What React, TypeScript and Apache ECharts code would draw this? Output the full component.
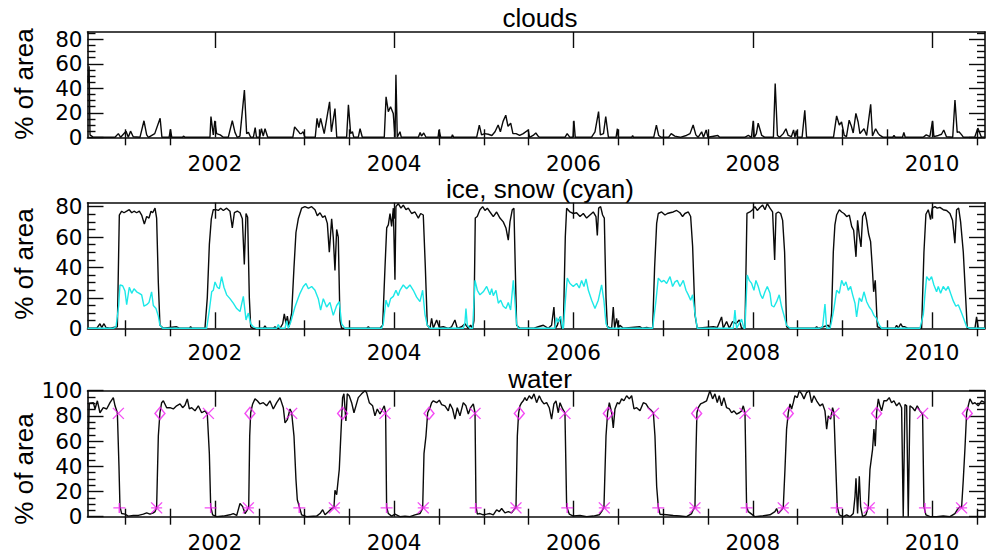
import React, { useEffect, useRef } from "react";
import * as echarts from "echarts";

// ---------- axis extents & ticks ----------
const X_MIN = 2000.58;
const X_MAX = 2010.59;
const majorYears = [2002, 2004, 2006, 2008, 2010];
const minorYears = [2001, 2001.5, 2002.5, 2003, 2003.5, 2004.5, 2005, 2005.5, 2006.5, 2007, 2007.5, 2008.5, 2009, 2009.5, 2010.5];

const panelTitles = ["clouds", "ice, snow (cyan)", "water"];
const yAxisName = "% of area";
const panelYMax = [86, 82.6, 100];
const yMajorTicks = [
  [0, 20, 40, 60, 80],
  [0, 20, 40, 60, 80],
  [0, 20, 40, 60, 80, 100],
];
const yMinorTicks = [
  [5, 10, 15, 25, 30, 35, 45, 50, 55, 65, 70, 75, 85],
  [5, 10, 15, 25, 30, 35, 45, 50, 55, 65, 70, 75],
  [5, 10, 15, 25, 30, 35, 45, 50, 55, 65, 70, 75, 85, 90, 95],
];

// ---------- data: [decimal year, % of area] ----------
const clouds = [
  [2000.585, 45], [2000.598, 58], [2000.608, 2], [2000.645, 0], [2000.887, 0], [2000.924, 3], [2000.95, 0], [2001.01, 5], [2001.035, 0],
  [2001.06, 5], [2001.09, 0.5], [2001.165, 0], [2001.21, 13.5], [2001.24, 2], [2001.26, 0], [2001.33, 3], [2001.39, 15.5],
  [2001.41, 0], [2001.49, 0], [2001.505, 6.5], [2001.52, 0], [2001.64, 0], [2001.65, 1], [2001.67, 0], [2001.946, 0],
  [2001.957, 17], [2001.983, 2], [2002.0, 13.5], [2002.02, 3], [2002.06, 2], [2002.095, 0], [2002.15, 0], [2002.195, 13.5],
  [2002.225, 4], [2002.25, 0], [2002.28, 1], [2002.33, 38.5], [2002.355, 3], [2002.375, 4], [2002.4, 0], [2002.43, 0],
  [2002.45, 8], [2002.465, 0], [2002.5, 0], [2002.52, 7], [2002.54, 1], [2002.56, 7], [2002.59, 0], [2002.87, 0],
  [2002.89, 8.5], [2002.93, 5], [2002.95, 3], [2002.965, 3], [2002.985, 4.5], [2003.005, 0], [2003.12, 0], [2003.14, 15.5],
  [2003.16, 8], [2003.18, 15.5], [2003.22, 3], [2003.28, 29], [2003.3, 4.5], [2003.34, 23.5], [2003.36, 0], [2003.47, 0],
  [2003.49, 26.5], [2003.515, 3], [2003.535, 4.5], [2003.55, 0], [2003.6, 0], [2003.62, 7], [2003.645, 0], [2003.89, 0],
  [2003.91, 33], [2003.935, 21], [2003.96, 25], [2003.99, 19.5], [2004.01, 0], [2004.02, 51], [2004.035, 0], [2004.065, 4.5],
  [2004.08, 0], [2004.27, 0], [2004.29, 4], [2004.305, 1], [2004.33, 3.5], [2004.355, 0], [2004.49, 0], [2004.5, 6],
  [2004.52, 0], [2004.64, 0], [2004.65, 2], [2004.665, 0], [2004.92, 0], [2004.95, 10], [2004.975, 2], [2005.01, 3],
  [2005.05, 2.5], [2005.09, 1.5], [2005.125, 4.5], [2005.16, 10], [2005.185, 4.5], [2005.215, 13], [2005.245, 18], [2005.27, 9],
  [2005.3, 11.5], [2005.325, 3], [2005.36, 3], [2005.4, 1.5], [2005.44, 3], [2005.495, 6], [2005.51, 0], [2005.55, 1.5],
  [2005.58, 3.5], [2005.61, 0.5], [2005.625, 0], [2005.905, 0], [2005.93, 3], [2005.96, 0], [2005.995, 0], [2006.005, 13.5],
  [2006.02, 0], [2006.2, 0], [2006.24, 4.5], [2006.28, 21], [2006.3, 2], [2006.335, 3], [2006.36, 17], [2006.39, 0],
  [2006.475, 0], [2006.49, 7], [2006.5, 0], [2006.65, 0], [2006.66, 1.5], [2006.67, 0], [2006.895, 0], [2006.925, 10],
  [2006.95, 1.5], [2006.98, 0], [2007.06, 0], [2007.09, 3], [2007.13, 1], [2007.19, 0], [2007.26, 1.5], [2007.3, 3],
  [2007.335, 10], [2007.365, 2], [2007.39, 0], [2007.43, 4.5], [2007.45, 0], [2007.48, 6], [2007.5, 0], [2007.61, 1.5],
  [2007.63, 0], [2007.91, 0], [2007.95, 1.5], [2007.985, 0], [2008.005, 13.5], [2008.017, 0], [2008.04, 3], [2008.06, 11.5],
  [2008.1, 1.5], [2008.135, 0], [2008.23, 0], [2008.25, 44], [2008.275, 1.5], [2008.3, 0], [2008.34, 3], [2008.37, 7],
  [2008.395, 1.5], [2008.43, 0.5], [2008.455, 6], [2008.47, 0], [2008.485, 5.5], [2008.5, 0], [2008.55, 0], [2008.58, 22],
  [2008.6, 0], [2008.9, 0], [2008.935, 17.5], [2008.965, 10], [2008.99, 12.5], [2009.02, 1.5], [2009.045, 0.5], [2009.075, 14],
  [2009.1, 9], [2009.12, 3.5], [2009.15, 19.5], [2009.175, 12.5], [2009.195, 3], [2009.24, 7], [2009.27, 1.5], [2009.315, 27],
  [2009.335, 1], [2009.37, 7], [2009.4, 3], [2009.42, 1.5], [2009.455, 0], [2009.56, 0], [2009.575, 1.5], [2009.59, 0],
  [2009.67, 0], [2009.685, 4], [2009.7, 0], [2009.9, 0], [2009.935, 2], [2009.975, 0.5], [2010.005, 13.5], [2010.02, 0.5],
  [2010.07, 1.5], [2010.105, 2.5], [2010.13, 6], [2010.16, 0.5], [2010.23, 0], [2010.255, 30.5], [2010.28, 4], [2010.3, 4.5],
  [2010.33, 2], [2010.35, 0], [2010.475, 0], [2010.51, 7.5], [2010.55, 0], [2010.59, 0],
];

const iceSnow = [
  [2000.58, 0], [2000.682, 0], [2000.719, 3], [2000.738, 0.5], [2000.764, 3], [2000.786, 0.5], [2000.831, 0], [2000.913, 1],
  [2000.935, 74.5], [2000.961, 77], [2000.987, 76], [2001.017, 77], [2001.046, 78], [2001.073, 76], [2001.099, 77], [2001.128, 76],
  [2001.158, 77], [2001.184, 74.5], [2001.214, 68.5], [2001.24, 73.5], [2001.266, 72.5], [2001.288, 77], [2001.307, 76], [2001.333, 79],
  [2001.351, 72.5], [2001.37, 30], [2001.388, 2], [2001.426, 0], [2001.574, 1], [2001.612, 0], [2001.716, 0], [2001.73, 1], [2001.745, 0],
  [2001.89, 0], [2001.916, 20], [2001.939, 55], [2001.961, 72], [2001.983, 78], [2002.013, 78], [2002.039, 77.5], [2002.065, 79],
  [2002.095, 77.5], [2002.132, 79], [2002.169, 77], [2002.195, 66], [2002.218, 76], [2002.251, 77], [2002.281, 76], [2002.307, 72],
  [2002.329, 42], [2002.348, 75.5], [2002.366, 73], [2002.385, 20], [2002.4, 1], [2002.429, 0], [2002.541, 0], [2002.559, 1.5],
  [2002.578, 0], [2002.652, 0], [2002.671, 1], [2002.69, 0],
  [2002.727, 0], [2002.757, 3], [2002.775, 9.5], [2002.794, 3], [2002.809, 8], [2002.827, 1], [2002.857, 10], [2002.883, 40],
  [2002.905, 63], [2002.931, 72], [2002.968, 79], [2003.005, 80], [2003.043, 79], [2003.08, 80], [2003.117, 78], [2003.143, 74],
  [2003.173, 76], [2003.203, 73], [2003.229, 74], [2003.255, 69], [2003.277, 50], [2003.303, 72], [2003.321, 60], [2003.34, 38],
  [2003.359, 65], [2003.377, 60], [2003.396, 5], [2003.414, 0], [2003.693, 0], [2003.712, 1], [2003.73, 0],
  [2003.842, 0], [2003.872, 2], [2003.898, 40], [2003.917, 66], [2003.935, 68], [2003.954, 75.5], [2003.972, 67], [2003.991, 79],
  [2004.009, 32], [2004.02, 80], [2004.046, 82], [2004.076, 79], [2004.102, 81], [2004.132, 78], [2004.158, 79], [2004.195, 75.5],
  [2004.232, 76.5], [2004.27, 72.5], [2004.296, 75.5], [2004.325, 74.5], [2004.348, 40], [2004.37, 2], [2004.4, 0], [2004.418, 6.5],
  [2004.437, 0], [2004.474, 5.5], [2004.504, 0.5], [2004.548, 1], [2004.604, 0], [2004.641, 1], [2004.678, 5.5], [2004.704, 0],
  [2004.752, 1], [2004.79, 3], [2004.827, 0], [2004.853, 2], [2004.876, 0],
  [2004.89, 5], [2004.905, 72.5], [2004.927, 73.5], [2004.957, 78], [2004.987, 80], [2005.013, 77.5], [2005.039, 79], [2005.069, 76.5],
  [2005.106, 73.5], [2005.143, 76.5], [2005.18, 72.5], [2005.217, 70], [2005.247, 66], [2005.273, 58], [2005.292, 70], [2005.318, 78],
  [2005.336, 79], [2005.351, 40], [2005.366, 2], [2005.403, 0], [2005.552, 0], [2005.608, 1], [2005.664, 2], [2005.719, 0],
  [2005.756, 2], [2005.782, 14], [2005.797, 0], [2005.82, 2], [2005.85, 7.5], [2005.868, 0],
  [2005.887, 0], [2005.909, 60], [2005.924, 79], [2005.961, 76.5], [2005.998, 75.5], [2006.035, 76], [2006.073, 73.5], [2006.11, 75.5],
  [2006.147, 72.5], [2006.184, 74.5], [2006.221, 76.5], [2006.251, 73.5], [2006.266, 61], [2006.281, 79], [2006.303, 80], [2006.325, 74.5],
  [2006.344, 72.5], [2006.363, 20], [2006.378, 1], [2006.426, 0], [2006.444, 14], [2006.459, 0], [2006.481, 6.5], [2006.5, 0],
  [2006.518, 2], [2006.556, 0], [2006.742, 1], [2006.771, 0], [2006.816, 0.5], [2006.853, 0],
  [2006.883, 0], [2006.905, 40], [2006.928, 69], [2006.946, 75.5], [2006.983, 76.5], [2007.021, 74.5], [2007.047, 75.5], [2007.077, 76],
  [2007.113, 76.5], [2007.151, 77.5], [2007.188, 76], [2007.217, 73.5], [2007.243, 75.5], [2007.281, 76.5], [2007.307, 73.5], [2007.329, 54],
  [2007.355, 9], [2007.381, 0], [2007.56, 1], [2007.604, 0.5], [2007.652, 7.5], [2007.671, 0], [2007.708, 4.5], [2007.738, 0],
  [2007.775, 4.5], [2007.812, 3], [2007.849, 5.5], [2007.875, 0],
  [2007.913, 0], [2007.935, 75.5], [2007.968, 76.5], [2007.998, 78], [2008.024, 80], [2008.05, 77.5], [2008.08, 79.5], [2008.11, 81],
  [2008.136, 78], [2008.162, 82], [2008.192, 79], [2008.221, 76.5], [2008.244, 45], [2008.259, 75.5], [2008.285, 76.5], [2008.311, 75.5],
  [2008.333, 71], [2008.355, 50], [2008.377, 1], [2008.415, 0], [2008.693, 0], [2008.712, 1], [2008.73, 0], [2008.842, 2], [2008.861, 0],
  [2008.879, 10], [2008.898, 50], [2008.916, 68], [2008.935, 74.5], [2008.965, 78], [2008.991, 76.5], [2009.017, 75.5], [2009.047, 73.5],
  [2009.077, 74.5], [2009.103, 67], [2009.125, 64.5], [2009.151, 47], [2009.169, 71], [2009.188, 61], [2009.207, 53.5], [2009.225, 73.5],
  [2009.251, 76.5], [2009.27, 71], [2009.292, 62], [2009.314, 57], [2009.333, 40], [2009.348, 24], [2009.366, 31.5], [2009.389, 1],
  [2009.437, 0], [2009.586, 0], [2009.604, 2], [2009.623, 0], [2009.649, 3], [2009.671, 1], [2009.697, 1], [2009.734, 0],
  [2009.883, 0], [2009.909, 50], [2009.931, 75], [2009.957, 78], [2009.983, 71.5], [2010.002, 79], [2010.031, 80], [2010.057, 79],
  [2010.087, 79.5], [2010.124, 78], [2010.162, 77.5], [2010.199, 75.5], [2010.228, 71], [2010.254, 56], [2010.273, 78], [2010.296, 79],
  [2010.318, 70], [2010.348, 50], [2010.37, 25], [2010.392, 0], [2010.478, 0], [2010.496, 7.5], [2010.515, 0], [2010.59, 0],
];

const snowOnly = [
  [2000.58, 0], [2000.868, 0], [2000.898, 1], [2000.928, 15], [2000.942, 28.5], [2000.972, 28], [2000.998, 24.5], [2001.017, 15.5],
  [2001.046, 27], [2001.073, 23], [2001.099, 26], [2001.128, 24], [2001.158, 23], [2001.184, 22], [2001.21, 14.5], [2001.24, 15.5],
  [2001.266, 17], [2001.295, 24], [2001.314, 15], [2001.344, 13], [2001.37, 8], [2001.388, 2], [2001.418, 0],
  [2001.909, 0], [2001.939, 12], [2001.965, 24], [2001.983, 25], [2002.002, 30.5], [2002.028, 27], [2002.05, 26], [2002.076, 34],
  [2002.102, 27], [2002.132, 22], [2002.169, 19.5], [2002.206, 16.5], [2002.244, 13], [2002.281, 11], [2002.318, 21], [2002.348, 5.5],
  [2002.374, 10], [2002.4, 3], [2002.429, 1], [2002.467, 0], [2002.69, 0], [2002.708, 2.5], [2002.727, 0],
  [2002.783, 0], [2002.801, 5], [2002.82, 0], [2002.846, 4], [2002.894, 14], [2002.924, 19], [2002.95, 23], [2002.987, 27.5],
  [2003.017, 29.5], [2003.043, 26], [2003.08, 27.5], [2003.117, 25], [2003.154, 19.5], [2003.18, 12], [2003.21, 19.5], [2003.247, 14],
  [2003.284, 17], [2003.321, 8.5], [2003.359, 15], [2003.388, 17.5], [2003.414, 3], [2003.452, 0],
  [2003.861, 0], [2003.879, 3], [2003.909, 18.5], [2003.935, 14], [2003.961, 19.5], [2003.991, 21], [2004.02, 25], [2004.046, 21.5],
  [2004.065, 25], [2004.102, 28.5], [2004.139, 26], [2004.176, 28.5], [2004.214, 25], [2004.251, 20.5], [2004.288, 17.5], [2004.318, 25],
  [2004.344, 9], [2004.37, 2], [2004.4, 0], [2004.772, 0], [2004.79, 4], [2004.801, 13], [2004.816, 2], [2004.846, 0],
  [2004.876, 0], [2004.902, 31.5], [2004.928, 25], [2004.957, 22], [2004.994, 24], [2005.032, 27.5], [2005.069, 22], [2005.088, 26],
  [2005.106, 21.5], [2005.136, 25], [2005.162, 16.5], [2005.188, 18.5], [2005.217, 14.5], [2005.247, 13], [2005.273, 17], [2005.299, 12],
  [2005.329, 31.5], [2005.347, 18], [2005.366, 3], [2005.385, 0], [2005.793, 0], [2005.812, 7], [2005.831, 4], [2005.857, 8], [2005.879, 0],
  [2005.887, 0], [2005.916, 23], [2005.931, 33], [2005.961, 29.5], [2005.998, 27.5], [2006.035, 29.5], [2006.065, 26.5], [2006.091, 31.5],
  [2006.117, 27.5], [2006.14, 32.5], [2006.166, 25], [2006.203, 18.5], [2006.24, 13], [2006.277, 18.5], [2006.314, 28.5], [2006.34, 18],
  [2006.363, 3], [2006.388, 0],
  [2006.883, 0], [2006.92, 18], [2006.946, 33], [2006.983, 30.5], [2007.009, 31.5], [2007.039, 29.5], [2007.077, 34], [2007.106, 27.5],
  [2007.132, 30.5], [2007.158, 31.5], [2007.188, 27.5], [2007.225, 31.5], [2007.255, 25], [2007.281, 22], [2007.307, 18.5], [2007.329, 22],
  [2007.355, 10], [2007.381, 0], [2007.782, 0], [2007.801, 12], [2007.819, 0], [2007.875, 6], [2007.901, 0],
  [2007.913, 0], [2007.938, 35], [2007.961, 31.5], [2007.987, 29.5], [2008.013, 25], [2008.035, 31.5], [2008.061, 27.5], [2008.087, 22],
  [2008.11, 19.5], [2008.136, 24], [2008.162, 27.5], [2008.192, 23], [2008.21, 15], [2008.236, 14], [2008.266, 17.5], [2008.295, 22],
  [2008.322, 14], [2008.348, 8.5], [2008.377, 2], [2008.415, 0], [2008.742, 0], [2008.779, 1], [2008.805, 16], [2008.824, 0],
  [2008.861, 0], [2008.879, 4.5], [2008.905, 13], [2008.935, 25], [2008.965, 23], [2008.991, 31.5], [2009.017, 28], [2009.039, 30.5],
  [2009.065, 25], [2009.091, 27.5], [2009.114, 22], [2009.14, 16.5], [2009.158, 7.5], [2009.188, 20], [2009.214, 17.5], [2009.24, 24],
  [2009.27, 17.5], [2009.299, 14], [2009.325, 12], [2009.351, 8.5], [2009.381, 6.5], [2009.411, 2], [2009.437, 0],
  [2009.864, 0], [2009.902, 9], [2009.92, 22], [2009.939, 34], [2009.968, 31.5], [2009.994, 34], [2010.02, 28.5], [2010.05, 24],
  [2010.069, 27.5], [2010.095, 23], [2010.124, 27.5], [2010.154, 25], [2010.18, 27.5], [2010.206, 23], [2010.236, 18], [2010.265, 14.5],
  [2010.292, 15.5], [2010.329, 10], [2010.355, 6], [2010.385, 1], [2010.422, 0], [2010.59, 0],
];

const water = [
  [2000.582, 40], [2000.6, 90], [2000.645, 90.5], [2000.664, 85.5], [2000.69, 92], [2000.719, 82.5], [2000.756, 86.5], [2000.794, 85.5],
  [2000.831, 90.5], [2000.868, 94.5], [2000.887, 88], [2000.913, 82.5], [2000.931, 40], [2000.942, 8], [2000.961, 2.5], [2000.998, 2],
  [2001.035, 0.5], [2001.091, 1], [2001.147, 1], [2001.203, 2], [2001.24, 3], [2001.277, 2], [2001.314, 3], [2001.333, 4],
  [2001.351, 7.5], [2001.37, 64], [2001.388, 82.5], [2001.407, 90.5], [2001.426, 92], [2001.463, 86.5], [2001.5, 86.5], [2001.537, 85.5],
  [2001.574, 88], [2001.612, 89.5], [2001.641, 86.5], [2001.667, 88.5], [2001.693, 93.5], [2001.716, 85.5], [2001.742, 86.5], [2001.779, 84],
  [2001.816, 88], [2001.853, 82.5], [2001.89, 84], [2001.916, 81.5], [2001.939, 50], [2001.954, 8], [2001.976, 1.5], [2002.02, 0],
  [2002.095, 0.5], [2002.169, 1.5], [2002.206, 2.5], [2002.244, 1], [2002.281, 10.5], [2002.311, 8], [2002.337, 2.5], [2002.363, 5.5],
  [2002.378, 7.5], [2002.389, 64], [2002.4, 82.5], [2002.422, 89.5], [2002.448, 93.5], [2002.474, 92], [2002.504, 89.5], [2002.541, 90.5],
  [2002.578, 88], [2002.615, 92], [2002.652, 85.5], [2002.69, 90.5], [2002.727, 94.5], [2002.764, 86.5], [2002.783, 74.5], [2002.809, 77],
  [2002.839, 85.5], [2002.857, 82.5], [2002.883, 64], [2002.905, 29.5], [2002.92, 13.5], [2002.942, 8], [2002.968, 1.5], [2003.024, 0],
  [2003.136, 0.5], [2003.173, 2.5], [2003.203, 5.5], [2003.229, 1.5], [2003.266, 4], [2003.303, 6.5], [2003.329, 7.5], [2003.34, 21],
  [2003.359, 17.5], [2003.388, 37.5], [2003.414, 77.5], [2003.425, 94.5], [2003.44, 97.5], [2003.462, 76], [2003.477, 97.5], [2003.499, 96],
  [2003.526, 90.5], [2003.552, 82.5], [2003.574, 88], [2003.6, 94.5], [2003.637, 97.5], [2003.675, 100], [2003.693, 98.5], [2003.723, 90.5],
  [2003.76, 88], [2003.786, 80], [2003.812, 85.5], [2003.842, 81.5], [2003.872, 85.5], [2003.89, 88], [2003.905, 82.5], [2003.916, 8],
  [2003.935, 2.5], [2003.972, 0.5], [2004.009, 2], [2004.065, 0], [2004.121, 0.5], [2004.177, 0], [2004.232, 1.5], [2004.288, 2.5],
  [2004.318, 6.5], [2004.333, 50], [2004.355, 64], [2004.374, 82.5], [2004.4, 86.5], [2004.418, 90.5], [2004.437, 92], [2004.474, 90.5],
  [2004.504, 92.5], [2004.53, 89], [2004.567, 88], [2004.604, 84], [2004.623, 89.5], [2004.652, 85.5], [2004.678, 77.5], [2004.704, 86.5],
  [2004.734, 80], [2004.771, 90.5], [2004.801, 88], [2004.827, 81.5], [2004.853, 86.5], [2004.883, 89.5], [2004.902, 82.5], [2004.913, 8],
  [2004.928, 2], [2004.957, 2.5], [2004.994, 1.5], [2005.032, 2], [2005.069, 2.5], [2005.106, 1.5], [2005.143, 5.5], [2005.173, 4],
  [2005.199, 6.5], [2005.236, 3], [2005.273, 4], [2005.31, 3], [2005.347, 6.5], [2005.359, 7.5], [2005.374, 64], [2005.388, 82],
  [2005.403, 88], [2005.422, 90.5], [2005.441, 92], [2005.459, 94.5], [2005.478, 92], [2005.507, 96], [2005.533, 93.5], [2005.56, 97.5],
  [2005.589, 90.5], [2005.619, 96], [2005.645, 92], [2005.671, 89.5], [2005.701, 90.5], [2005.73, 86.5], [2005.756, 77.5], [2005.782, 89.5],
  [2005.805, 92], [2005.831, 82.5], [2005.85, 90.5], [2005.879, 85.5], [2005.905, 82.5], [2005.924, 8], [2005.954, 2], [2005.998, 0.5],
  [2006.073, 1], [2006.147, 0], [2006.221, 0.5], [2006.288, 1.5], [2006.314, 4], [2006.34, 7.5], [2006.363, 64], [2006.381, 82.5],
  [2006.4, 90.5], [2006.426, 82.5], [2006.444, 70.5], [2006.463, 85.5], [2006.489, 90.5], [2006.511, 89.5], [2006.537, 93.5], [2006.563, 92],
  [2006.593, 96], [2006.623, 93.5], [2006.649, 96], [2006.675, 85.5], [2006.705, 86.5], [2006.742, 84], [2006.779, 90.5], [2006.809, 89.5],
  [2006.835, 86.5], [2006.872, 84], [2006.891, 82.5], [2006.909, 64], [2006.928, 24], [2006.946, 8], [2006.965, 2], [2007.039, 1.5],
  [2007.113, 1], [2007.188, 0.5], [2007.262, 0], [2007.318, 2.5], [2007.336, 5.5], [2007.355, 7.5], [2007.366, 50], [2007.377, 82.5],
  [2007.392, 86.5], [2007.418, 89.5], [2007.448, 90.5], [2007.485, 92], [2007.522, 100], [2007.552, 93.5], [2007.578, 97.5], [2007.604, 90.5],
  [2007.626, 96], [2007.652, 88], [2007.678, 94.5], [2007.708, 86.5], [2007.738, 85.5], [2007.764, 82.5], [2007.79, 84], [2007.819, 81.5],
  [2007.849, 82.5], [2007.875, 84], [2007.894, 88], [2007.913, 82.5], [2007.931, 8], [2007.95, 4], [2007.987, 2], [2008.024, 0],
  [2008.099, 0.5], [2008.192, 1.5], [2008.247, 4], [2008.266, 6.5], [2008.285, 2.5], [2008.322, 5.5], [2008.34, 7.5], [2008.359, 37.5],
  [2008.377, 69.5], [2008.396, 82.5], [2008.415, 89.5], [2008.433, 85.5], [2008.452, 90.5], [2008.47, 96], [2008.496, 94.5], [2008.519, 100],
  [2008.545, 97.5], [2008.571, 93.5], [2008.6, 98.5], [2008.63, 100], [2008.656, 90.5], [2008.682, 96], [2008.712, 92], [2008.749, 88],
  [2008.779, 89.5], [2008.805, 84], [2008.824, 69.5], [2008.842, 80], [2008.868, 77.5], [2008.89, 86.5], [2008.905, 82.5], [2008.927, 37.5],
  [2008.942, 8], [2008.965, 1.5], [2009.01, 0], [2009.047, 1.5], [2009.084, 0], [2009.121, 2.5], [2009.14, 16], [2009.151, 30.5],
  [2009.169, 2.5], [2009.188, 32], [2009.203, 8], [2009.225, 0], [2009.262, 1.5], [2009.288, 7.5], [2009.307, 37.5], [2009.336, 53.5],
  [2009.351, 69.5], [2009.366, 56], [2009.381, 82.5], [2009.4, 93.5], [2009.418, 88], [2009.437, 84], [2009.463, 92], [2009.493, 92],
  [2009.522, 94.5], [2009.548, 90.5], [2009.574, 92], [2009.604, 88], [2009.634, 90.5], [2009.66, 86.5], [2009.678, 0], [2009.697, 89],
  [2009.716, 88], [2009.734, 0], [2009.753, 88], [2009.782, 86.5], [2009.808, 84], [2009.834, 88], [2009.864, 84], [2009.894, 81.5],
  [2009.909, 8], [2009.931, 1.5], [2009.976, 0], [2010.05, 0], [2010.124, 0.5], [2010.199, 0], [2010.254, 2.5], [2010.28, 5.5],
  [2010.31, 8], [2010.329, 7.5], [2010.348, 29.5], [2010.366, 53.5], [2010.385, 82.5], [2010.403, 88], [2010.422, 93.5], [2010.452, 89.5],
  [2010.478, 90.5], [2010.515, 88], [2010.552, 92], [2010.59, 90.5],
];

// freeze-up / break-up markers (water panel)
const freezeStart = [
  [2000.924, 82], [2001.928, 82], [2002.857, 82], [2003.898, 82], [2004.902, 82],
  [2005.905, 82], [2006.891, 82], [2007.913, 82], [2008.905, 82], [2009.894, 82],
];
const freezeEnd = [
  [2000.935, 7], [2001.954, 7], [2002.942, 7], [2003.916, 7], [2004.909, 7],
  [2005.931, 7], [2006.946, 7], [2007.931, 7], [2008.935, 7], [2009.92, 7],
];
const meltStart = [
  [2001.351, 7], [2002.374, 7], [2003.333, 7], [2004.325, 7], [2005.359, 7],
  [2006.344, 7], [2007.355, 7], [2008.34, 7], [2009.299, 7], [2010.329, 7],
];
const meltEnd = [
  [2001.388, 82], [2002.392, 82], [2003.425, 82], [2004.389, 82], [2005.396, 82],
  [2006.389, 82], [2007.374, 82], [2008.396, 82], [2009.381, 82], [2010.392, 82],
];

// ---------- styling ----------
const INK = "#0a0a0a";
const CYAN = "#1CE8E8";
const MAGENTA = "#F020F0";
const TICK_FONT = "DejaVu Sans";
const TEXT_FONT = "Liberation Sans";

const grids = [
  { left: 87.5, top: 32, width: 897.5, height: 105.3 },
  { left: 87.5, top: 202.7, width: 897.5, height: 125.6 },
  { left: 87.5, top: 390.7, width: 897.5, height: 126 },
];
const titleY = [17.8, 189.3, 378.5];
const nameY = [84, 264, 469];
const xLabelMargin = [18, 16, 18];

function buildXAxes(g: number) {
  const base = {
    gridIndex: g, type: "value", min: X_MIN, max: X_MAX,
    splitLine: { show: false }, axisPointer: { show: false },
  };
  const line = { show: true, onZero: false, lineStyle: { color: INK, width: 1.6 } };
  const tick = (vals: number[], len: number) => ({
    show: true, inside: true, length: len, customValues: vals, lineStyle: { color: INK, width: 1.4 },
  });
  return [
    {
      ...base, position: "bottom", axisLine: line, axisTick: tick(majorYears, 16),
      axisLabel: {
        show: true, customValues: majorYears, margin: xLabelMargin[g], fontSize: 21.5, lineHeight: 16,
        fontFamily: TICK_FONT, color: "#000",
        formatter: (v: number) => String(Math.round(v)),
      },
    },
    { ...base, position: "bottom", axisLine: { show: false }, axisTick: tick(minorYears, 8), axisLabel: { show: false } },
    { ...base, position: "top", axisLine: line, axisTick: tick(majorYears, 16), axisLabel: { show: false } },
    { ...base, position: "top", axisLine: { show: false }, axisTick: tick(minorYears, 8), axisLabel: { show: false } },
  ];
}

function buildYAxes(g: number) {
  const base = {
    gridIndex: g, type: "value", min: 0, max: panelYMax[g],
    splitLine: { show: false }, axisPointer: { show: false },
  };
  const line = { show: true, onZero: false, lineStyle: { color: INK, width: 1.6 } };
  const tick = (vals: number[], len: number) => ({
    show: true, inside: true, length: len, customValues: vals, lineStyle: { color: INK, width: 1.4 },
  });
  return [
    {
      ...base, position: "left", axisLine: line, axisTick: tick(yMajorTicks[g], 16),
      axisLabel: {
        show: true, customValues: yMajorTicks[g], margin: 5, fontSize: 21.5, lineHeight: 16,
        fontFamily: TICK_FONT, color: "#000",
        verticalAlign: "middle", padding: [8, 0, 0, 0], formatter: (v: number) => String(v),
      },
    },
    { ...base, position: "left", axisLine: { show: false }, axisTick: tick(yMinorTicks[g], 8), axisLabel: { show: false } },
    { ...base, position: "right", axisLine: line, axisTick: tick(yMajorTicks[g], 16), axisLabel: { show: false } },
    { ...base, position: "right", axisLine: { show: false }, axisTick: tick(yMinorTicks[g], 8), axisLabel: { show: false } },
  ];
}

function lineSeries(g: number, data: number[][], color: string, z: number) {
  return {
    type: "line", xAxisIndex: g * 4, yAxisIndex: g * 4, data,
    showSymbol: false, symbol: "none", silent: true, z,
    lineStyle: { color, width: 1.4 }, emphasis: { disabled: true },
  };
}

function markerSeries(data: number[][], symbol: string, size: any) {
  return {
    type: "scatter", xAxisIndex: 8, yAxisIndex: 8, data, symbol, symbolSize: size, silent: true, z: 5,
    itemStyle: { color: "none", borderColor: MAGENTA, borderWidth: 1.4 },
  };
}

export default function App() {
  const ref = useRef<HTMLDivElement>(null);
  useEffect(() => {
    if (!ref.current) return;
    const chart = echarts.init(ref.current, undefined, { renderer: "svg" });
    const graphic: any[] = [];
    panelTitles.forEach((t, i) => {
      graphic.push({
        type: "text", x: 540, y: titleY[i],
        style: {
          text: t, fontSize: 26, lineHeight: 20, fontFamily: TEXT_FONT, fill: "#000",
          align: "center", verticalAlign: "middle",
        },
      });
      graphic.push({
        type: "text", x: 24, y: nameY[i], rotation: Math.PI / 2,
        style: {
          text: yAxisName, fontSize: 26, lineHeight: 20, fontFamily: TEXT_FONT, fill: "#000",
          align: "center", verticalAlign: "middle",
        },
      });
    });
    chart.setOption({
      animation: false,
      backgroundColor: "#ffffff",
      grid: grids.map((g) => ({ ...g, containLabel: false })),
      xAxis: [...buildXAxes(0), ...buildXAxes(1), ...buildXAxes(2)],
      yAxis: [...buildYAxes(0), ...buildYAxes(1), ...buildYAxes(2)],
      graphic,
      series: [
        lineSeries(0, clouds, INK, 2),
        lineSeries(1, iceSnow, INK, 2),
        lineSeries(1, snowOnly, CYAN, 3),
        lineSeries(2, water, INK, 2),
        markerSeries(freezeStart, "path://M0,0L10,10M10,0L0,10", 11),
        markerSeries(freezeEnd, "path://M6,0L6,10M0,5L12,5", [12, 10]),
        markerSeries(meltStart, "path://M0,0L10,10M10,0L0,10M0,5L10,5", 11),
        markerSeries(meltEnd, "diamond", [10, 12]),
      ],
    });
    return () => chart.dispose();
  }, []);
  return <div ref={ref} style={{ position: "fixed", left: 0, top: 0, width: 987, height: 554, background: "#fff" }} />;
}
